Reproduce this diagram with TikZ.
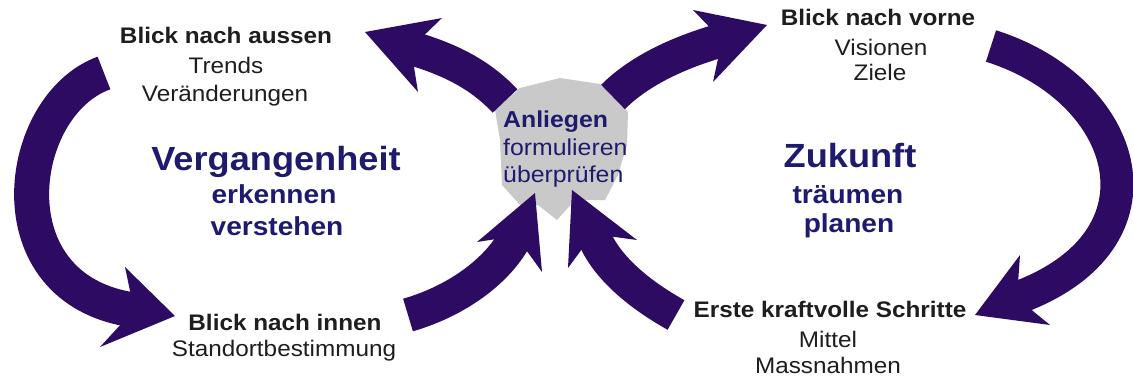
\documentclass[tikz,border=0pt]{standalone}
\usepackage{fontspec}
\setmainfont{Liberation Sans}[FakeStretch=1.08]
\definecolor{arrowc}{HTML}{2D0B63}
\definecolor{navy}{HTML}{1E1B6E}
\definecolor{txtk}{HTML}{1E1E1E}
\definecolor{grayx}{HTML}{C9C9C9}
\begin{document}
\begin{tikzpicture}[x=1pt,y=-1pt,
  shaft/.style={draw=arrowc,line width=34pt,line cap=butt},
  head/.style={fill=arrowc},
  rg/.style={inner sep=0pt,anchor=base,text=txtk,font=\fontsize{22.5}{27}\selectfont},
  bk/.style={inner sep=0pt,anchor=base,text=txtk,font=\bfseries\fontsize{22.5}{27}\selectfont},
  big/.style={inner sep=0pt,anchor=base,text=navy,font=\bfseries\fontsize{33.5}{40}\selectfont},
  midt/.style={inner sep=0pt,anchor=base,text=navy,font=\bfseries\fontsize{26}{31}\selectfont},
  cb/.style={inner sep=0pt,anchor=base west,text=navy,font=\bfseries\fontsize{23}{28}\selectfont},
  cr/.style={inner sep=0pt,anchor=base west,text=navy,font=\fontsize{23}{28}\selectfont}]
\useasboundingbox (0,0) rectangle (1133,381);
\fill[white] (0,0) rectangle (1133,381);

% gray cross behind the centre
\fill[grayx] (495,110) -- (520,88) -- (560,78) -- (600,84) -- (628,112) -- (627,145)
  -- (618,175) -- (605,200) -- (575,200) -- (557,220) -- (538,205) -- (520,205)
  -- (502,185) -- (500,140) -- cycle;

% left big arrow
\coordinate (Lt) at (104,73);
\coordinate (Lb) at (134,310);
\draw[shaft,line width=35pt] (Lt) .. controls (15,105) and (-10,290) .. (Lb);
\fill[head] (175,316) -- (125,267) -- (Lb) -- (100,347) -- cycle;

% right big arrow
\coordinate (Rt) at (991,46);
\coordinate (Rb) at (1017,298);
\draw[shaft,line width=33pt] (Rt) .. controls (1130,90) and (1175,240) .. (Rb);
\fill[head] (975,315) -- (1020,255) -- (Rb) -- (1050,325) -- cycle;

% top-left centre arrow
\coordinate (TLt) at (505,101);
\coordinate (TLb) at (411,48);
\draw[shaft] (TLt) .. controls (478,72) and (445,58) .. (TLb);
\fill[head] (365,32) -- (442,18) -- (TLb) -- (418,92) -- cycle;

% top-right centre arrow
\coordinate (TRt) at (613,97);
\coordinate (TRb) at (722,40);
\draw[shaft] (TRt) .. controls (640,70) and (680,52) .. (TRb);
\fill[head] (767,25) -- (693,10) -- (TRb) -- (713,82) -- cycle;

% bottom-left centre arrow
\coordinate (BLt) at (408,315);
\coordinate (BLb) at (516,236);
\draw[shaft] (BLt) .. controls (460,300) and (500,268) .. (BLb);
\fill[head] (535,193) -- (477,242) -- (BLb) -- (542,272) -- cycle;

% bottom-right centre arrow
\coordinate (BRt) at (676,315);
\coordinate (BRb) at (593,234);
\draw[shaft] (BRt) .. controls (635,292) and (604,264) .. (BRb);
\fill[head] (572,190) -- (568,268) -- (BRb) -- (637,240) -- cycle;

% texts left
\node[bk] (bna) at (226,43) {Blick nach aussen};
\node[rg] (tre) at (226,73) {Trends};
\node[rg] (ver) at (225,101) {Veränderungen};
\node[big] (verg) at (276,170) {Vergangenheit};
\node[midt] (erk) at (274,203) {erkennen};
\node[midt] (vst) at (277,235) {verstehen};
\node[bk] (bni) at (285,330) {Blick nach innen};
\node[rg] (sdb) at (284,356) {Standortbestimmung};

% texts centre
\node[cb] (anl) at (503,127) {Anliegen};
\node[cr] (frm) at (503,155) {formulieren};
\node[cr] (ueb) at (503,182) {überprüfen};

% texts right
\node[bk] (bnv) at (878,25) {Blick nach vorne};
\node[rg] (vis) at (881,55) {Visionen};
\node[rg] (zie) at (880,80) {Ziele};
\node[big] (zuk) at (850,167) {Zukunft};
\node[midt] (trm) at (848,203) {träumen};
\node[midt] (pln) at (849,232) {planen};
\node[bk] (eks) at (830,317) {Erste kraftvolle Schritte};
\node[rg] (mit) at (828,347) {Mittel};
\node[rg] (mas) at (828,373) {Massnahmen};
\end{tikzpicture}
\end{document}
